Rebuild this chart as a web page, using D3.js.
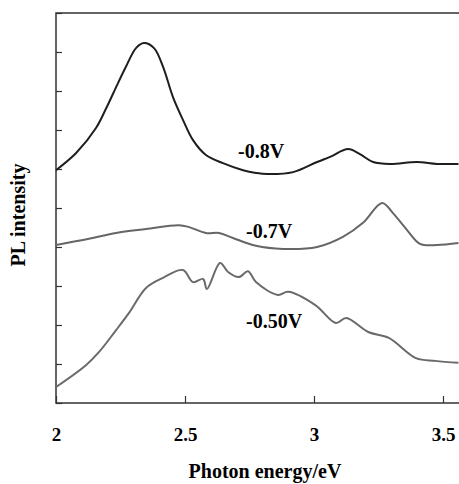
<!DOCTYPE html>
<html>
<head>
<meta charset="utf-8">
<script src="https://cdn.jsdelivr.net/npm/d3@7"></script>
<style>
  body { margin: 0; background: #fff; }
  text { font-family: "Liberation Serif", "Times New Roman", serif; font-weight: bold; }
</style>
</head>
<body>
<div class="chart"></div>
<script>
// PL spectra at three bias voltages (arbitrary units, 0-10)
var energy08 = [2.0, 2.078, 2.155, 2.194, 2.233, 2.271, 2.31, 2.341, 2.38, 2.415, 2.453, 2.492, 2.531, 2.581, 2.647, 2.725, 2.775, 2.818, 2.919, 3.012, 3.062, 3.132, 3.178, 3.229, 3.295, 3.399, 3.477, 3.56];
var pl08 = [5.97, 6.41, 7.05, 7.55, 8.10, 8.62, 9.10, 9.23, 9.10, 8.62, 7.85, 7.26, 6.74, 6.36, 6.15, 5.97, 5.90, 5.87, 5.92, 6.18, 6.31, 6.51, 6.38, 6.18, 6.13, 6.18, 6.13, 6.13];

var energy07 = [2.0, 2.128, 2.233, 2.349, 2.477, 2.516, 2.581, 2.632, 2.686, 2.775, 2.88, 3.012, 3.112, 3.19, 3.264, 3.306, 3.36, 3.411, 3.477, 3.56];
var pl07 = [4.05, 4.21, 4.36, 4.46, 4.56, 4.51, 4.36, 4.36, 4.23, 4.03, 3.95, 4.00, 4.26, 4.62, 5.13, 4.87, 4.44, 4.08, 4.05, 4.10];

var energy05 = [2.0, 2.116, 2.167, 2.233, 2.283, 2.349, 2.415, 2.492, 2.531, 2.57, 2.585, 2.636, 2.667, 2.709, 2.744, 2.775, 2.86, 2.90, 3.005, 3.085, 3.125, 3.21, 3.29, 3.395, 3.47, 3.56];
var pl05 = [0.41, 0.97, 1.31, 1.87, 2.31, 2.95, 3.21, 3.41, 3.10, 3.18, 2.92, 3.59, 3.36, 3.23, 3.38, 3.10, 2.77, 2.85, 2.51, 2.05, 2.18, 1.82, 1.67, 1.15, 1.08, 1.03];

var xTicks = [2, 2.5, 3, 3.5];
var yTicks = [0, 1, 2, 3, 4, 5, 6, 7, 8, 9, 10];

var series = [
  { name: '-0.8V', x: energy08, y: pl08, color: '#1e1e1e', lx: 238, ly: 158 },
  { name: '-0.7V', x: energy07, y: pl07, color: '#666666', lx: 246, ly: 238 },
  { name: '-0.50V', x: energy05, y: pl05, color: '#6a6a6a', lx: 246, ly: 328 }
];

var width = 459, height = 484;
var mLeft = 56, mTop = 13, mBottom = 403;

var svg = d3.select('.chart').append('svg').attr('width', width).attr('height', height);

var x = d3.scaleLinear().domain([2, 3.6]).range([mLeft, mLeft + 1.6 * 258]);
var y = d3.scaleLinear().domain([0, 10]).range([mBottom, mTop]);

// frame (right side falls outside the picture)
svg.append('rect')
    .attr('x', x(2)).attr('y', y(10))
    .attr('width', x(3.6) - x(2)).attr('height', y(0) - y(10))
    .attr('fill', 'none').attr('stroke', '#333').attr('stroke-width', 1.5);

var xAxis = svg.append('g').attr('transform', 'translate(0,' + mBottom + ')')
    .call(d3.axisBottom(x).tickValues(xTicks).tickSize(-7).tickPadding(25).tickFormat(d3.format('')));
var yAxis = svg.append('g').attr('transform', 'translate(' + mLeft + ',0)')
    .call(d3.axisLeft(y).tickValues(yTicks).tickSize(-6).tickFormat(''));

[xAxis, yAxis].forEach(function(a) {
  a.select('.domain').remove();
  a.selectAll('line').attr('stroke', '#333').attr('stroke-width', 1.2);
});
xAxis.selectAll('text').attr('fill', '#000').style('font-size', '19px');

var line = d3.line()
    .x(function(d) { return x(d[0]); })
    .y(function(d) { return y(d[1]); })
    .curve(d3.curveCatmullRom.alpha(0.5));

series.forEach(function(s) {
  var pts = s.x.map(function(v, i) { return [v, s.y[i]]; });
  svg.append('path')
      .datum(pts)
      .attr('d', line)
      .attr('fill', 'none')
      .attr('stroke', s.color)
      .attr('stroke-width', 2);
  svg.append('text')
      .attr('x', s.lx).attr('y', s.ly)
      .style('font-size', '20px')
      .text(s.name);
});

svg.append('text')
    .attr('x', 265).attr('y', 478)
    .attr('text-anchor', 'middle')
    .style('font-size', '20px')
    .text('Photon energy/eV');

svg.append('text')
    .attr('transform', 'translate(25,215) rotate(-90)')
    .attr('text-anchor', 'middle')
    .style('font-size', '20px')
    .text('PL intensity');
</script>
</body>
</html>
